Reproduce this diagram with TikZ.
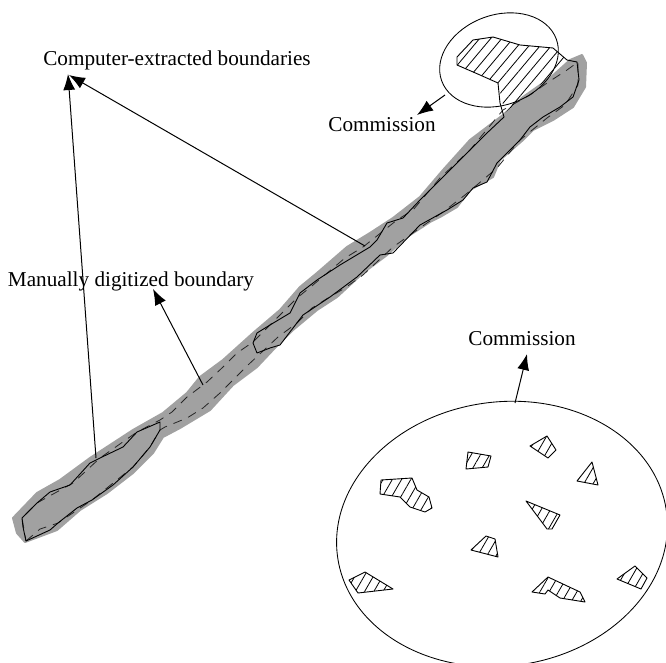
\documentclass[tikz,border=0pt]{standalone}
\usepackage{fontspec}
\setmainfont{Liberation Serif}
\usetikzlibrary{arrows.meta,patterns.meta,shapes.geometric}
\tikzset{
  band/.style={
    fill=black!37,
    draw=black!37,
    line width=2pt,
    line join=round
  },
  extracted/.style={
    draw,
    line width=0.9pt,
    line join=round
  },
  digitized/.style={
    draw=black!85,
    line width=0.8pt,
    dash pattern=on 9pt off 7pt
  },
  blob/.style={
    draw,
    line width=0.9pt,
    line join=round,
    pattern={Lines[angle=60,distance=8pt,line width=0.8pt]}
  },
  oval/.style={
    shape = ellipse,
    draw,
    inner sep = 0,
    line width=0.85pt
  },
  pointer/.style={
    line width=1pt,
    -{Latex[length=16pt,width=12pt]}
  },
  lbl/.style={
    font=\fontsize{21.2}{24}\selectfont,
    inner sep=0
  },
}
\begin{document}
\begin{tikzpicture}[x=1pt,y=-1pt]
\useasboundingbox (0,0) rectangle (666,663);
\clip (0,0) rectangle (666,663);
% gray strip
\draw[band] (13,518) -- (37,493) -- (60,480) -- (90,458) -- (133,430) -- (163,413) -- (187,393) -- (200,377) -- (223,360) -- (253,333) -- (280,310) -- (300,287) -- (317,273) -- (347,247) -- (370,233) -- (393,218) -- (420,197) -- (443,170) -- (470,140) -- (503,115) -- (523,97) -- (550,78) -- (570,60) -- (582,55) -- (586,63) -- (585,87) -- (573,107) -- (553,120) -- (533,130) -- (523,140) -- (500,160) -- (493,177) -- (470,190) -- (457,207) -- (440,217) -- (430,222) -- (407,237) -- (387,255) -- (363,273) -- (337,297) -- (317,310) -- (293,330) -- (273,350) -- (257,367) -- (233,385) -- (210,410) -- (180,428) -- (163,437) -- (153,453) -- (133,473) -- (107,493) -- (80,510) -- (57,530) -- (25,542) -- (17,533) -- cycle;
% manual boundary
\draw[digitized] (26,541) -- (40,529) -- (58,523) -- (92,500) -- (133,467) -- (150,447) -- (160,430) -- (165,427) -- (187,418) -- (203,408) -- (220,393) -- (235,378) -- (248,365) -- (278,337) -- (297,323) -- (312,308) -- (328,298) -- (345,288) -- (363,275) -- (393,247) -- (410,235) -- (427,223) -- (443,212) -- (465,195) -- (497,168) -- (520,140) -- (547,118) -- (565,105) -- (578,85) -- (578,62) -- (567,70) -- (547,83) -- (530,95) -- (503,110) -- (470,150) -- (440,178) -- (413,210) -- (397,220) -- (363,247) -- (345,258) -- (313,285) -- (297,298) -- (275,320) -- (253,342) -- (237,353) -- (223,367) -- (207,382) -- (187,397) -- (172,412) -- (160,420) -- (137,432) -- (100,458) -- (73,483) -- (37,503) -- (22,518) -- cycle;
% hatched part at the top
\fill[pattern={Lines[angle=50,distance=8.5pt,line width=0.8pt]}] (457,65) -- (457,57) -- (473,40) -- (493,37) -- (520,45) -- (553,48) -- (567,60) -- (550,78) -- (523,97) -- (505,113) -- (498,83) -- (480,75) -- cycle;
% extracted boundaries
\draw[extracted] (22,518) -- (37,503) -- (50,492) -- (70,485) -- (90,463) -- (100,458) -- (123,447) -- (137,432) -- (160,422) -- (160,430) -- (150,447) -- (133,467) -- (113,485) -- (92,500) -- (77,508) -- (58,523) -- (50,530) -- (26,541) -- (23,527) -- cycle;
\draw[extracted] (257,333) -- (270,325) -- (290,313) -- (300,293) -- (317,280) -- (340,265) -- (370,247) -- (377,240) -- (387,223) -- (403,218) -- (420,200) -- (440,180) -- (463,157) -- (487,133) -- (504,117) -- (500,103) -- (498,83) -- (480,75) -- (457,65) -- (457,57) -- (473,40) -- (493,37) -- (520,45) -- (553,48) -- (567,60) -- (577,62) -- (579,80) -- (573,97) -- (560,107) -- (543,117) -- (530,127) -- (520,140) -- (497,163) -- (487,182) -- (473,188) -- (463,200) -- (447,210) -- (420,225) -- (393,253) -- (380,255) -- (357,277) -- (330,297) -- (303,315) -- (280,345) -- (270,348) -- (257,353) -- (253,343) -- cycle;
% ovals
\node[oval, minimum width=122pt, minimum height=90pt, rotate=20] (ovaltop) at (499,60) {};
\node[oval, minimum width=332pt, minimum height=264pt, rotate=8] (ovalbig) at (502,534) {};
% scattered patches
\draw[blob] (468,452) -- (491,456) -- (488,467) -- (466,469) -- cycle;
\draw[blob] (547,436) -- (556,450) -- (548,458) -- (530,446) -- cycle;
\draw[blob] (592,462) -- (598,485) -- (577,481) -- cycle;
\draw[blob] (381,480) -- (412,478) -- (417,490) -- (429,497) -- (432,508) -- (425,512) -- (410,507) -- (400,497) -- (380,494) -- cycle;
\draw[blob] (526,501) -- (560,515) -- (552,529) -- (547,529) -- cycle;
\draw[blob] (486,536) -- (495,539) -- (498,557) -- (471,550) -- cycle;
\draw[blob] (365,572) -- (393,589) -- (358,593) -- (349,580) -- cycle;
\draw[blob] (548,577) -- (580,592) -- (585,602) -- (560,598) -- (548,590) -- (545,594) -- (532,592) -- cycle;
\draw[blob] (635,566) -- (647,578) -- (641,589) -- (617,579) -- cycle;
% labels
\node[lbl] (computer) at (177,60) {Computer-extracted boundaries};
\node[lbl] (commtop) at (382,125) {Commission};
\node[lbl] (manual) at (131,281) {Manually digitized boundary};
\node[lbl] (commbig) at (522,339) {Commission};
% arrows
\coordinate (tipa) at (68,74);
\coordinate (tipb) at (69,75);
\coordinate (tipc) at (153,289);
\coordinate (tipd) at (417,115);
\coordinate (tipe) at (527,354);
\coordinate (starta) at (96,458);
\coordinate (startb) at (365,246);
\coordinate (startc) at (203,385);
\coordinate (startd) at (445,95);
\coordinate (starte) at (515,403);
\draw[pointer] (starta) -- (tipa);
\draw[pointer] (startb) -- (tipb);
\draw[pointer] (startc) -- (tipc);
\draw[pointer] (startd) -- (tipd);
\draw[pointer] (starte) -- (tipe);
\end{tikzpicture}
\end{document}
